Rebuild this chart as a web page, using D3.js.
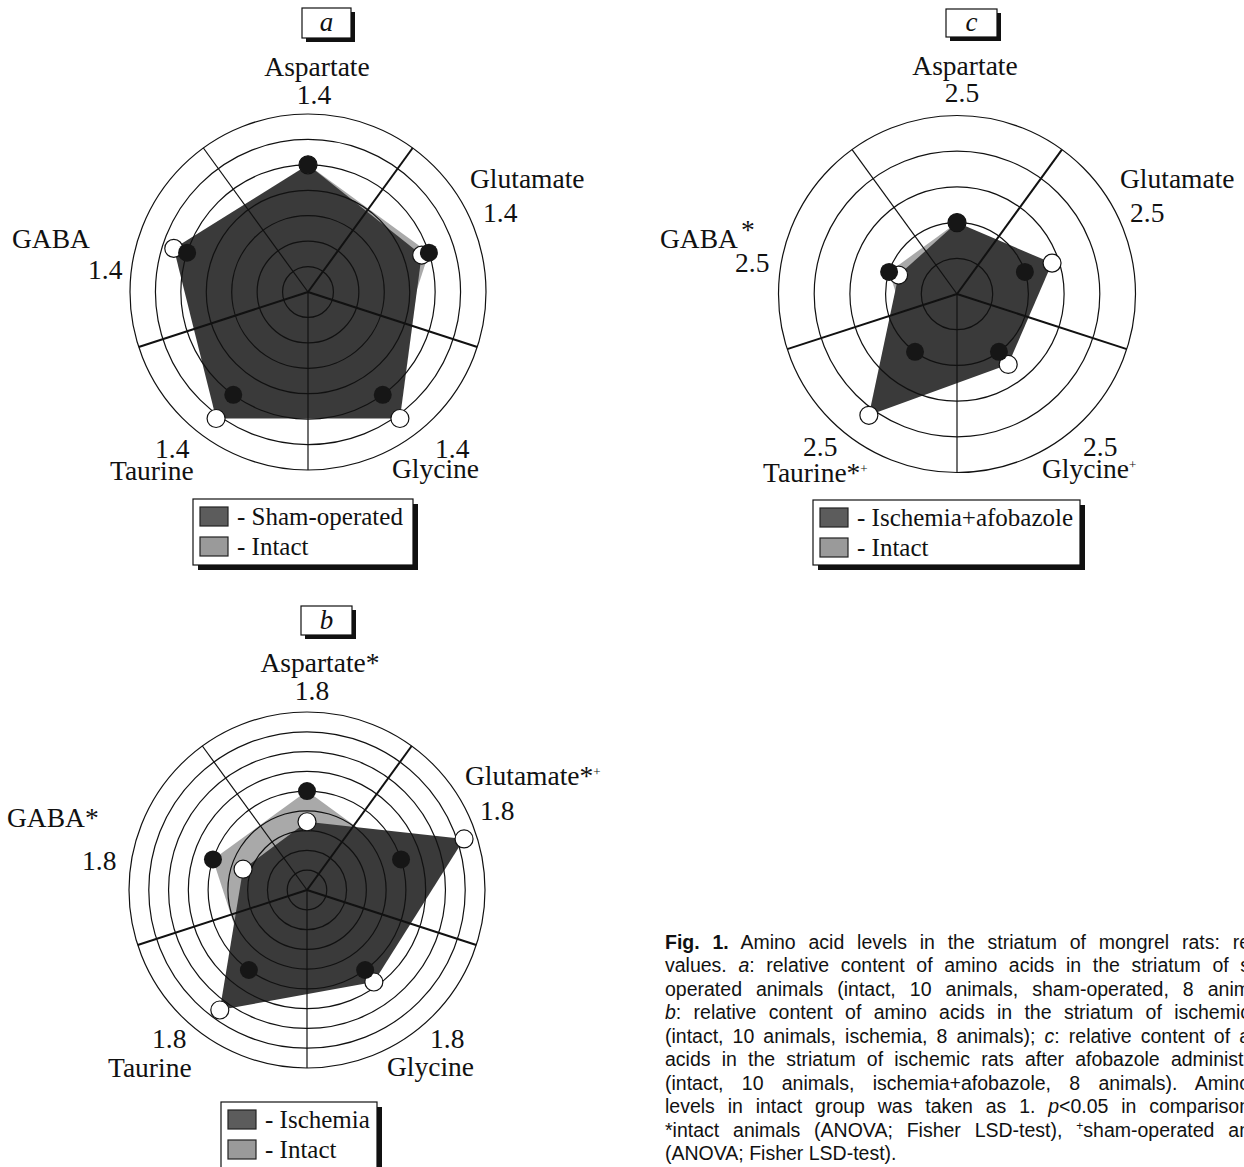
<!DOCTYPE html>
<html>
<head>
<meta charset="utf-8">
<script src="https://cdn.jsdelivr.net/npm/d3@7"></script>
<style>
  body { margin: 0; background: #fff; }
  svg text { font-family: "Liberation Serif", "Times New Roman", serif; fill: #111; }
  svg text.cap { font-family: "Liberation Sans", Arial, sans-serif; font-size: 19.5px; }
</style>
</head>
<body>
<svg id="fig"></svg>
<script>
// axes, clockwise from the top
const aminoAcids = ["Aspartate", "Glutamate", "Glycine", "Taurine", "GABA"];

// relative levels (intact group = 1)
const intact = [1, 1, 1, 1, 1];
const shamOperated = [1.0, 0.94, 1.23, 1.23, 1.11];
const ischemia = [0.69, 1.67, 1.15, 1.50, 0.68];
const ischemiaAfobazole = [1.0, 1.40, 1.22, 2.10, 0.86];

// ring ticks of each panel
const ringsA = [0.2, 0.4, 0.6, 0.8, 1.0, 1.2, 1.4];
const ringsB = [0.2, 0.4, 0.6, 0.8, 1.0, 1.2, 1.4, 1.6, 1.8];
const ringsC = [0.5, 1.0, 1.5, 2.0, 2.5];

// significance marks behind the axis names
const marksA = ["", "", "", "", ""];
const marksB = ["*", "*+", "", "", "*"];
const marksC = ["", "", "+", "*+", "^*"];

const W = 1244, H = 1167;
const svg = d3.select("#fig").attr("width", W).attr("height", H);
svg.append("rect").attr("width", W).attr("height", H).attr("fill", "#fff");

const darkFill = "#3a3a3a", grayFill = "#a9a9a9";

const panels = [
  {letter: "a", cx: 308, cy: 292, R: 178, rings: ringsA, values: shamOperated, marks: marksA,
   legend: ["Sham-operated", "Intact"], box: [302, 8, 49, 30], leg: [193, 499, 220, 66],
   layout: [
     {name: [9, -216, "middle"], num: [6, -188, "middle"]},
     {name: [162, -104, "start"], num: [175, -70, "start"]},
     {name: [84, 186, "start"], num: [127, 166, "start"]},
     {name: [-198, 188, "start"], num: [-153, 166, "start"]},
     {name: [-296, -44, "start"], num: [-220, -13, "start"]}
   ]},
  {letter: "b", cx: 307, cy: 890, R: 178, rings: ringsB, values: ischemia, marks: marksB,
   legend: ["Ischemia", "Intact"], box: [301, 606, 51, 29], leg: [221, 1102, 156, 66],
   layout: [
     {name: [13, -218, "middle"], num: [5, -190, "middle"]},
     {name: [158, -105, "start"], num: [173, -70, "start"]},
     {name: [80, 186, "start"], num: [123, 158, "start"]},
     {name: [-199, 187, "start"], num: [-155, 158, "start"]},
     {name: [-300, -63, "start"], num: [-225, -20, "start"]}
   ]},
  {letter: "c", cx: 957, cy: 294, R: 178.5, rings: ringsC, values: ischemiaAfobazole, marks: marksC,
   legend: ["Ischemia+afobazole", "Intact"], box: [946, 9, 51, 28], leg: [813, 500, 267, 65],
   layout: [
     {name: [8, -219, "middle"], num: [5, -192, "middle"]},
     {name: [163, -106, "start"], num: [173, -72, "start"]},
     {name: [85, 184, "start"], num: [126, 162, "start"]},
     {name: [-194, 188, "start"], num: [-154, 162, "start"]},
     {name: [-297, -46, "start"], num: [-222, -22, "start"]}
   ]}
];

const angle = d3.scalePoint().domain(aminoAcids).range([0, 2 * Math.PI * 4 / 5]);

panels.forEach(p => {
  const maxV = d3.max(p.rings);
  const r = d3.scaleLinear().domain([0, maxV]).range([0, p.R]);
  const g = svg.append("g").attr("transform", `translate(${p.cx},${p.cy})`);

  const radial = d3.lineRadial()
      .angle((d, i) => angle(aminoAcids[i]))
      .radius(d => r(d))
      .curve(d3.curveLinearClosed);

  // intact polygon under the treatment polygon
  g.append("path").attr("d", radial(intact)).attr("fill", grayFill);
  g.append("path").attr("d", radial(p.values)).attr("fill", darkFill);

  // rings
  g.selectAll(".ring").data(p.rings).enter().append("circle")
      .attr("r", d => r(d))
      .attr("fill", "none").attr("stroke", "#111").attr("stroke-width", 1.2);

  // spokes sit between the data axes
  const spokes = [36, 108, 180, 252, 324];
  const spokeW = [2, 2, 1.2, 2, 1.2];
  g.selectAll(".spoke").data(spokes).enter().append("line")
      .attr("x2", d => p.R * Math.sin(d * Math.PI / 180))
      .attr("y2", d => -p.R * Math.cos(d * Math.PI / 180))
      .attr("stroke", "#111").attr("stroke-width", (d, i) => spokeW[i]);

  const px = (v, i) => r(v) * Math.sin(angle(aminoAcids[i]));
  const py = (v, i) => -r(v) * Math.cos(angle(aminoAcids[i]));

  // treatment points (open), intact points (filled)
  g.selectAll(".open").data(p.values).enter().append("circle")
      .attr("cx", px).attr("cy", py).attr("r", 9)
      .attr("fill", "#fff").attr("stroke", "#111").attr("stroke-width", 1.2);
  g.selectAll(".full").data(intact).enter().append("circle")
      .attr("cx", px).attr("cy", py).attr("r", 9)
      .attr("fill", "#161616");

  // axis names and max values
  aminoAcids.forEach((name, i) => {
    const L = p.layout[i];
    const t = g.append("text")
        .attr("x", L.name[0]).attr("y", L.name[1])
        .attr("text-anchor", L.name[2])
        .style("font-size", "27.5px")
        .text(name);
    const m = p.marks[i];
    if (m.startsWith("^")) {
      t.append("tspan").attr("dx", 3).attr("dy", -9).text(m.slice(1));
    } else {
      if (m.includes("*")) t.append("tspan").text("*");
      if (m.includes("+")) t.append("tspan").attr("dy", -9).style("font-size", "13px").text("+");
    }
    g.append("text")
        .attr("x", L.num[0]).attr("y", L.num[1])
        .attr("text-anchor", L.num[2])
        .style("font-size", "27.5px")
        .text(d3.format(".1f")(maxV));
  });

  // panel letter box
  const [bx, by, bw, bh] = p.box;
  svg.append("rect").attr("x", bx + 4).attr("y", by + 4).attr("width", bw).attr("height", bh).attr("fill", "#111");
  svg.append("rect").attr("x", bx).attr("y", by).attr("width", bw).attr("height", bh)
      .attr("fill", "#fff").attr("stroke", "#111").attr("stroke-width", 1.2);
  svg.append("text").attr("x", bx + bw / 2).attr("y", by + bh / 2 + 8)
      .attr("text-anchor", "middle").style("font-size", "27px").style("font-style", "italic")
      .text(p.letter);

  // legend
  const [lx, ly, lw, lh] = p.leg;
  svg.append("rect").attr("x", lx + 5).attr("y", ly + 5).attr("width", lw).attr("height", lh).attr("fill", "#111");
  svg.append("rect").attr("x", lx).attr("y", ly).attr("width", lw).attr("height", lh)
      .attr("fill", "#fff").attr("stroke", "#111").attr("stroke-width", 1.2);
  const swatch = ["#5c5c5c", "#9a9a9a"];
  p.legend.forEach((lab, k) => {
    svg.append("rect").attr("x", lx + 7).attr("y", ly + 8 + k * 30).attr("width", 28).attr("height", 19)
        .attr("fill", swatch[k]).attr("stroke", "#222").attr("stroke-width", 1.2);
    svg.append("text").attr("x", lx + 44).attr("y", ly + 26 + k * 30)
        .style("font-size", "25px").text("- " + lab);
  });
});

// caption (clipped by the right edge as in the source)
const capX = 665, capY = 948.5, capStep = 23.5;
const capLines = [
  [["b", "Fig. 1."], ["", " Amino acid levels in the striatum of mongrel rats: re"]],
  [["", "values. "], ["i", "a"], ["", ": relative content of amino acids in the striatum of s"]],
  [["", "operated animals (intact, 10 animals, sham-operated, 8 anim"]],
  [["i", "b"], ["", ": relative content of amino acids in the striatum of ischemic"]],
  [["", "(intact, 10 animals, ischemia, 8 animals); "], ["i", "c"], ["", ": relative content of a"]],
  [["", "acids in the striatum of ischemic rats after afobazole administr"]],
  [["", "(intact, 10 animals, ischemia+afobazole, 8 animals). Amino"]],
  [["", "levels in intact group was taken as 1. "], ["i", "p"], ["", "<0.05 in comparison"]],
  [["", "*intact animals (ANOVA; Fisher LSD-test), "], ["s", "+"], ["", "sham-operated an"]],
  [["", "(ANOVA; Fisher LSD-test)."]]
];

capLines.forEach((parts, li) => {
  const t = svg.append("text").attr("class", "cap").attr("x", capX).attr("y", capY + li * capStep);
  let raised = false;
  parts.forEach(([k, s]) => {
    const ts = t.append("tspan").text(s);
    if (k === "b") ts.style("font-weight", "bold");
    if (k === "i") ts.style("font-style", "italic");
    if (k === "s") { ts.attr("dy", -7).style("font-size", "12px"); raised = true; }
    else if (raised) { ts.attr("dy", 7); raised = false; }
  });
  if (li < capLines.length - 1) {
    // justified text: spread the words so the visible part runs into the right edge
    const full = parts.map(d => d[1]).join("");
    const spaces = (full.match(/ /g) || []).length;
    const natural = t.node().getComputedTextLength();
    const extra = Math.max(0, (W + 6 - capX - natural) / spaces);
    t.style("word-spacing", extra + "px");
  }
});
</script>
</body>
</html>
